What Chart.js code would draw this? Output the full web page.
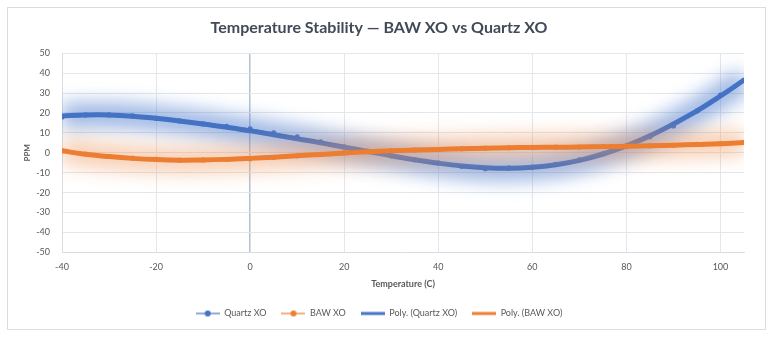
<!DOCTYPE html>
<html>
<head>
<meta charset="utf-8">
<script src="https://cdn.jsdelivr.net/npm/chart.js@4"></script>
<style>
  html, body { margin: 0; padding: 0; background: #fff; }
  #wrap { width: 774px; height: 339px; }
</style>
</head>
<body>
<div id="wrap"><canvas id="myChart" width="774" height="339"></canvas></div>
<script>
// temperature in C, one reading every 5 degrees
var temps = [-40, -35, -30, -25, -20, -15, -10, -5, 0, 5, 10, 15, 20, 25, 30,
             35, 40, 45, 50, 55, 60, 65, 70, 75, 80, 85, 90, 95, 100, 105];
var xTicks = [-40, -20, 0, 20, 40, 60, 80, 100];

// measured PPM
var quartz = [18, 19, 19, 18.5, 17.3, 16, 14.5, 13.3, 12, 10, 8, 5.5, 3, 0.8, -1.5,
              -3.5, -5, -6.8, -8, -7.6, -7.2, -5.8, -3.5, -0.5, 3.5, 8, 13.5, 21, 29, 36.5];
var baw = [1, -0.6, -1.8, -2.7, -3.3, -3.7, -3.6, -3.3, -3, -2.3, -1.5, -0.8, 0, 0.5, 1,
           1.3, 1.6, 2, 2.3, 2.5, 2.7, 2.8, 2.9, 3.1, 3.3, 3.5, 3.8, 4.2, 4.6, 5.2];

// polynomial trend lines as they appear on the chart
var quartzPoly = [18.5, 19, 19, 18.4, 17.3, 16, 14.5, 12.8, 11, 9, 7, 5, 2.8, 0.7, -1.5,
                  -3.5, -5.2, -6.6, -7.5, -7.8, -7.3, -6, -3.8, -0.6, 3.5, 8.5, 14.5, 21, 28.5, 36.5];
var bawPoly = [1, -0.7, -1.9, -2.8, -3.4, -3.7, -3.6, -3.3, -2.8, -2.2, -1.5, -0.8, -0.1, 0.5, 1,
               1.4, 1.7, 2, 2.3, 2.5, 2.7, 2.8, 2.9, 3.1, 3.3, 3.5, 3.8, 4.2, 4.6, 5.2];

var blue = '#4472C4';
var orange = '#ED7D31';

function pts(ys) {
    return temps.map(function (t, i) { return { x: t, y: ys[i] }; });
}

// small canvases used as legend icons
function icon(color, width, dot) {
    var c = document.createElement('canvas');
    c.width = 24; c.height = 8;
    var g = c.getContext('2d');
    g.strokeStyle = color;
    g.lineWidth = width;
    g.beginPath(); g.moveTo(0, 4); g.lineTo(24, 4); g.stroke();
    if (dot) {
        g.fillStyle = color;
        g.beginPath(); g.arc(12, 4, 3, 0, Math.PI * 2); g.fill();
    }
    return c;
}

// soft glow behind the trend lines (blurred wide stroke through the line's points)
var glow = {
    id: 'glow',
    beforeDatasetDraw: function (chart, args) {
        var ds = chart.data.datasets[args.index];
        if (!ds.glow) return;
        var c = chart.ctx, a = chart.chartArea, pts = args.meta.data;
        c.save();
        c.beginPath();
        c.rect(a.left, a.top - 20, a.right - a.left, a.bottom - a.top + 40);
        c.clip();
        c.filter = 'blur(9px)';
        c.strokeStyle = ds.glow;
        c.lineWidth = 26;
        c.lineJoin = 'round';
        c.beginPath();
        pts.forEach(function (p, i) { if (i === 0) c.moveTo(p.x, p.y); else c.lineTo(p.x, p.y); });
        c.stroke();
        c.restore();
    }
};

var frame = {
    id: 'frame',
    beforeDraw: function (chart) {
        var c = chart.ctx;
        c.save();
        c.strokeStyle = '#DCDCDC';
        c.lineWidth = 1;
        c.strokeRect(7.5, 7.5, 758, 322);
        c.restore();
    }
};

var ctx = document.getElementById('myChart').getContext('2d');
var chart = new Chart(ctx, {
    type: 'line',
    data: {
        datasets: [
            {
                label: 'Poly. (BAW XO)',
                data: pts(bawPoly),
                borderColor: orange,
                borderWidth: 5,
                pointRadius: 0,
                tension: 0.4,
                glow: 'rgba(240,150,90,0.45)',
                order: 0
            },
            {
                label: 'Poly. (Quartz XO)',
                data: pts(quartzPoly),
                borderColor: blue,
                borderWidth: 5,
                pointRadius: 0,
                tension: 0.4,
                glow: 'rgba(80,125,205,0.55)',
                order: 1
            },
            {
                label: 'BAW XO',
                data: pts(baw),
                borderColor: orange,
                backgroundColor: orange,
                borderWidth: 1.2,
                pointRadius: 2,
                order: 2
            },
            {
                label: 'Quartz XO',
                data: pts(quartz),
                borderColor: blue,
                backgroundColor: blue,
                borderWidth: 1.2,
                pointRadius: 2,
                order: 3
            }
        ]
    },
    options: {
        responsive: false,
        animation: false,
        layout: { padding: { left: 14, right: 30, top: 12, bottom: 11 } },
        plugins: {
            title: {
                display: true,
                text: 'Temperature Stability \u2014 BAW XO vs Quartz XO',
                color: '#404A58',
                font: { family: 'Lato', size: 16, weight: 'bold' },
                padding: { top: 6, bottom: 16 }
            },
            legend: {
                position: 'bottom',
                labels: {
                    color: '#595959',
                    font: { family: 'Lato', size: 9 },
                    usePointStyle: true,
                    pointStyleWidth: 24,
                    boxHeight: 8,
                    padding: 15,
                    generateLabels: function () {
                        return [
                            { text: 'Quartz XO', pointStyle: icon(blue, 1.2, true), fontColor: '#595959', lineWidth: 0 },
                            { text: 'BAW XO', pointStyle: icon(orange, 1.2, true), fontColor: '#595959', lineWidth: 0 },
                            { text: 'Poly. (Quartz XO)', pointStyle: icon(blue, 3, false), fontColor: '#595959', lineWidth: 0 },
                            { text: 'Poly. (BAW XO)', pointStyle: icon(orange, 3, false), fontColor: '#595959', lineWidth: 0 }
                        ];
                    }
                },
                onClick: null
            },
            tooltip: { enabled: false }
        },
        scales: {
            x: {
                type: 'linear',
                min: -40,
                max: 105,
                afterBuildTicks: function (axis) {
                    axis.ticks = xTicks.map(function (v) { return { value: v }; });
                },
                afterFit: function (axis) { axis.height -= 3; },
                ticks: { color: '#595959', font: { family: 'Lato', size: 9 }, padding: 9, maxRotation: 0 },
                grid: {
                    drawTicks: false,
                    color: function (c) { return c.tick && c.tick.value === 0 ? '#B3C1D3' : '#E3E6EA'; },
                    lineWidth: function (c) { return c.tick && c.tick.value === 0 ? 1.5 : 1; }
                },
                border: { color: '#D9DDE3' },
                title: {
                    display: true,
                    text: 'Temperature (C)',
                    color: '#595959',
                    font: { family: 'Lato', size: 9, weight: 'bold' },
                    padding: { top: 0, bottom: 5 }
                }
            },
            y: {
                min: -50,
                max: 50,
                afterFit: function (axis) { axis.width = 48; },
                ticks: { stepSize: 10, color: '#595959', font: { family: 'Lato', size: 9 }, padding: 12 },
                grid: { drawTicks: false, color: '#E3E6EA' },
                border: { color: '#D9DDE3' },
                title: {
                    display: true,
                    text: 'PPM',
                    color: '#595959',
                    font: { family: 'Lato', size: 8, weight: 'bold' },
                    padding: { top: 9, bottom: 0 }
                }
            }
        }
    },
    plugins: [glow, frame]
});
</script>
</body>
</html>
